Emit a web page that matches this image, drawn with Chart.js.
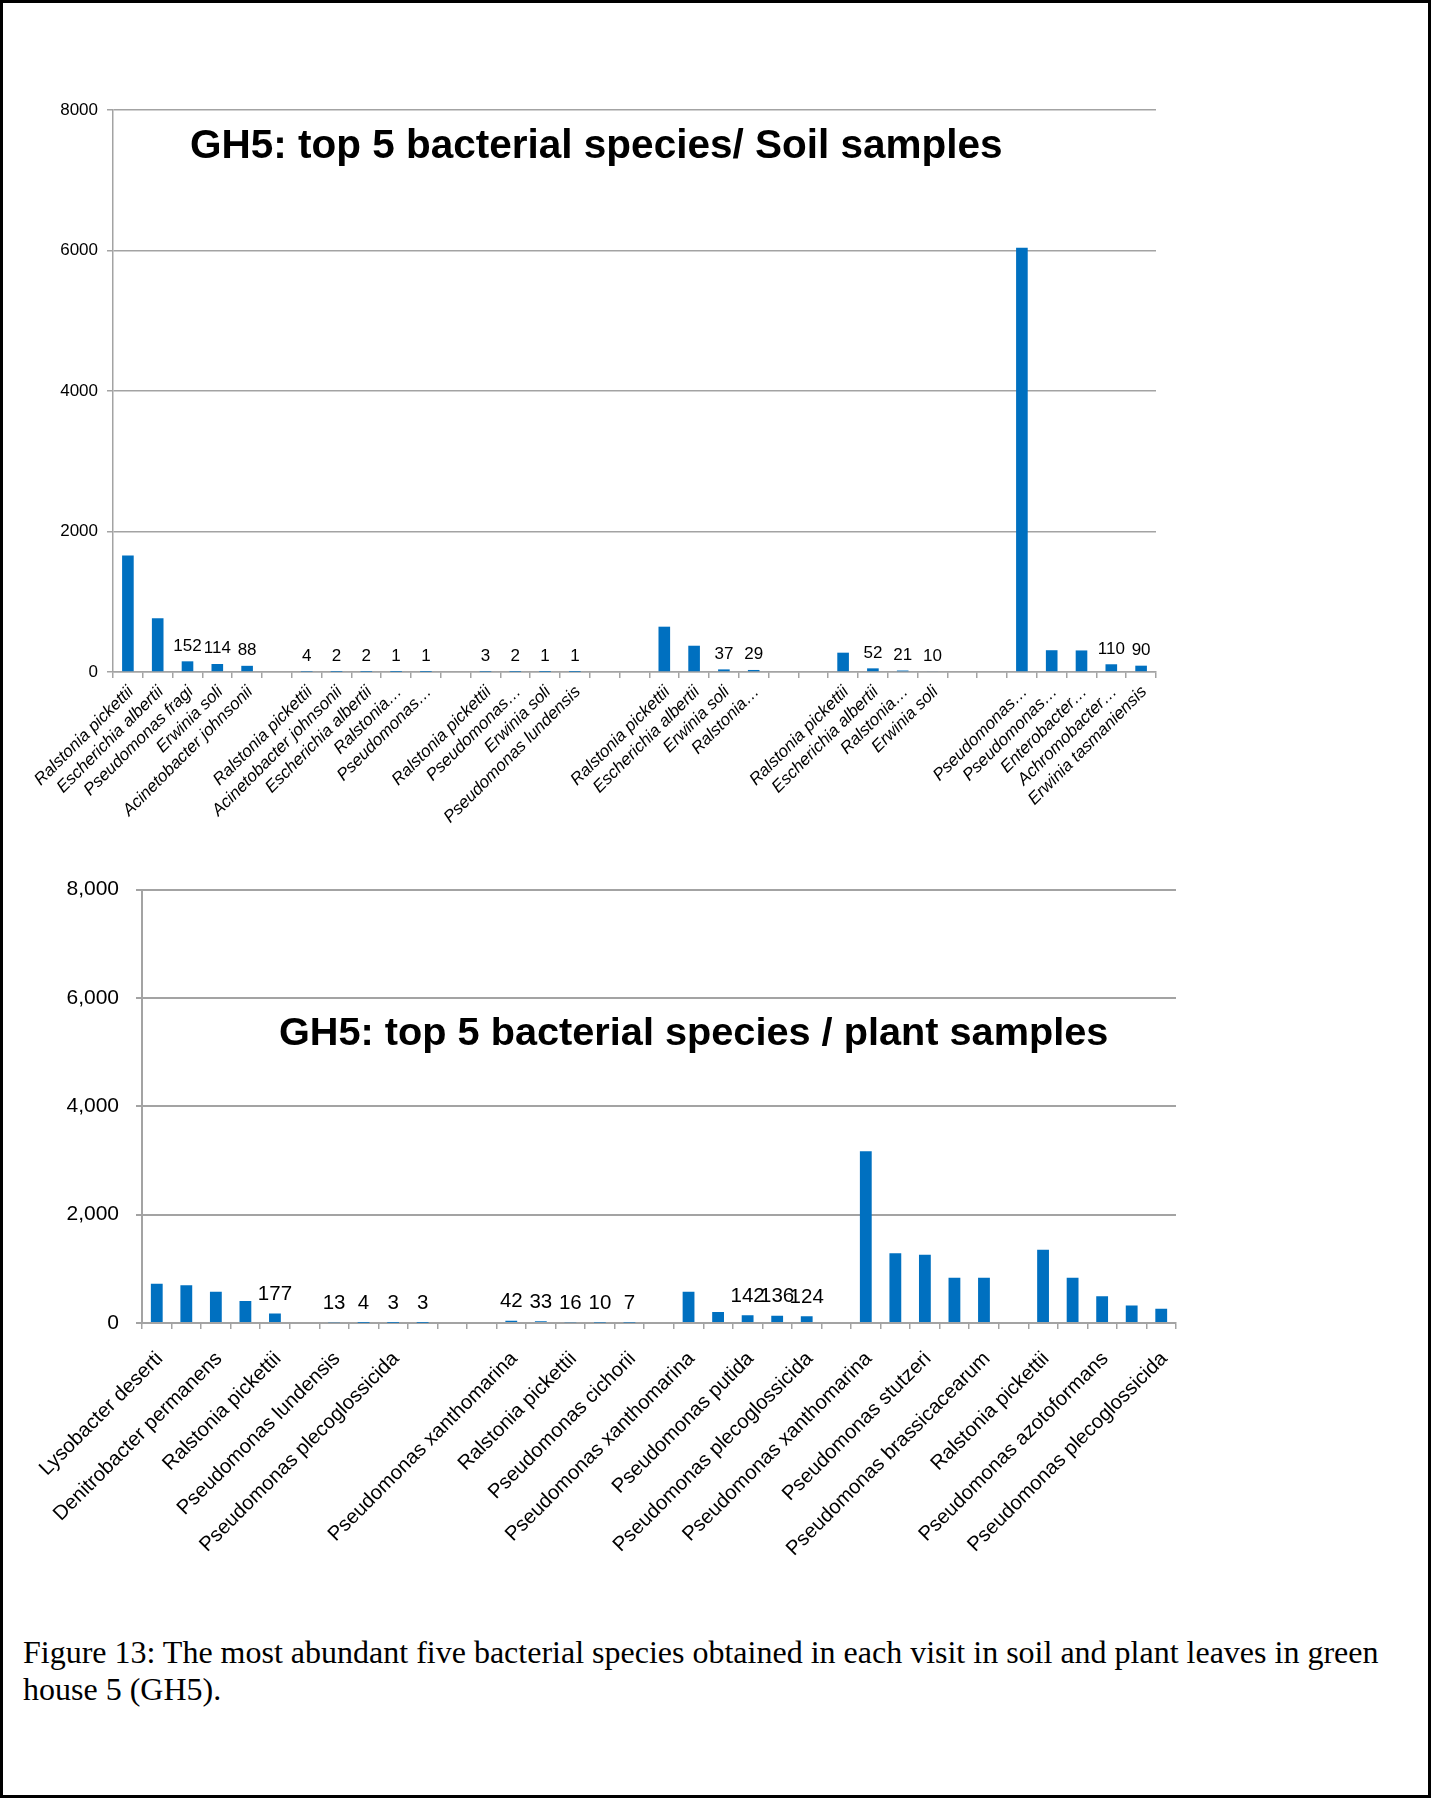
<!DOCTYPE html>
<html>
<head>
<meta charset="utf-8">
<title>GH5: top 5 bacterial species</title>
<script src="https://cdn.jsdelivr.net/npm/chart.js@4.4.1/dist/chart.umd.min.js"></script>
<style>
  html, body { margin: 0; padding: 0; background: #fff; }
  #page { position: relative; width: 1431px; height: 1798px; box-sizing: border-box; border: 3px solid #000; overflow: hidden; }
  canvas { position: absolute; left: -3px; }
  #soil { top: -3px; }
  #plant { top: 857px; }
  #caption {
    position: absolute; left: 20px; top: 1631px;
    font-family: "Liberation Serif", "Times New Roman", serif;
    font-size: 32px; line-height: 37px; color: #000; white-space: nowrap;
  }
</style>
</head>
<body>
<div id="page">
  <canvas id="soil" width="1431" height="860"></canvas>
  <canvas id="plant" width="1431" height="700"></canvas>
  <div id="caption">Figure 13: The most abundant five bacterial species obtained in each visit in soil and plant leaves in green<br>house 5 (GH5).</div>
</div>
<script>
// ---- Soil samples: five visits, top species per visit (blank slots separate visits)
const soilSpecies = [
  'Ralstonia pickettii', 'Escherichia albertii', 'Pseudomonas fragi', 'Erwinia soli', 'Acinetobacter johnsonii',
  '',
  'Ralstonia pickettii', 'Acinetobacter johnsonii', 'Escherichia albertii', 'Ralstonia…', 'Pseudomonas…',
  '',
  'Ralstonia pickettii', 'Pseudomonas…', 'Erwinia soli', 'Pseudomonas lundensis',
  '', '',
  'Ralstonia pickettii', 'Escherichia albertii', 'Erwinia soli', 'Ralstonia…',
  '', '',
  'Ralstonia pickettii', 'Escherichia albertii', 'Ralstonia…', 'Erwinia soli',
  '', '',
  'Pseudomonas…', 'Pseudomonas…', 'Enterobacter…', 'Achromobacter…', 'Erwinia tasmaniensis'
];
const soilCounts = [
  1660, 765, 152, 114, 88,
  null,
  4, 2, 2, 1, 1,
  null,
  3, 2, 1, 1,
  null, null,
  645, 374, 37, 29,
  null, null,
  275, 52, 21, 10,
  null, null,
  6040, 310, 307, 110, 90
];
const soilTicks = [0, 2000, 4000, 6000, 8000];

// ---- Plant samples (only every second species name is printed on the axis)
const plantSpecies = [
  'Lysobacter deserti', '', 'Denitrobacter permanens', '', 'Ralstonia pickettii',
  '',
  'Pseudomonas lundensis', '', 'Pseudomonas plecoglossicida', '',
  '', '',
  'Pseudomonas xanthomarina', '', 'Ralstonia pickettii', '', 'Pseudomonas cichorii',
  '',
  'Pseudomonas xanthomarina', '', 'Pseudomonas putida', '', 'Pseudomonas plecoglossicida',
  '',
  'Pseudomonas xanthomarina', '', 'Pseudomonas stutzeri', '', 'Pseudomonas brassicacearum',
  '',
  'Ralstonia pickettii', '', 'Pseudomonas azotoformans', '', 'Pseudomonas plecoglossicida'
];
const plantCounts = [
  725, 695, 578, 405, 177,
  null,
  13, 4, 3, 3,
  null, null,
  42, 33, 16, 10, 7,
  null,
  578, 205, 142, 136, 124,
  null,
  3170, 1288, 1258, 836, 836,
  null,
  1350, 836, 494, 322, 262
];
const plantTicks = [0, 2000, 4000, 6000, 8000];

const BAR_BLUE = '#0070c0';
const GRID_GREY = '#a3a3a3';
const SANS = '"Liberation Sans", Arial, Helvetica, sans-serif';

// Bold heading drawn inside the plot area
const panelTitle = {
  id: 'panelTitle',
  afterDraw(chart, args, opts) {
    const { ctx, chartArea } = chart;
    ctx.save();
    ctx.font = opts.font;
    ctx.fillStyle = '#000';
    ctx.textAlign = 'left';
    ctx.textBaseline = 'middle';
    ctx.fillText(opts.text, chartArea.left + opts.dx, chartArea.top + opts.dy);
    ctx.restore();
  }
};

// Count printed above the short bars
const valueLabels = {
  id: 'valueLabels',
  afterDatasetsDraw(chart, args, opts) {
    const { ctx } = chart;
    const meta = chart.getDatasetMeta(0);
    const data = chart.data.datasets[0].data;
    ctx.save();
    ctx.font = opts.font;
    ctx.fillStyle = '#000';
    ctx.textAlign = 'center';
    ctx.textBaseline = 'alphabetic';
    meta.data.forEach((bar, i) => {
      const v = data[i];
      if (v === null || v === undefined || v >= opts.below) return;
      ctx.fillText(String(v), bar.x, bar.y - opts.gap);
    });
    ctx.restore();
  }
};

function barChart(canvasId, cfg) {
  return new Chart(document.getElementById(canvasId), {
    type: 'bar',
    data: {
      labels: cfg.labels,
      datasets: [{
        data: cfg.values,
        backgroundColor: BAR_BLUE,
        borderWidth: 0,
        barPercentage: cfg.barPct,
        categoryPercentage: 1
      }]
    },
    plugins: [panelTitle, valueLabels],
    options: {
      responsive: false,
      animation: false,
      layout: { padding: cfg.padding },
      plugins: {
        legend: { display: false },
        tooltip: { enabled: false },
        title: { display: false },
        panelTitle: cfg.title,
        valueLabels: cfg.valueLabels
      },
      scales: {
        x: {
          type: 'category',
          offset: true,
          grid: { display: true, drawOnChartArea: false, drawTicks: true, tickLength: 6, color: GRID_GREY, lineWidth: 1.5, offset: true },
          border: { display: true, color: GRID_GREY, width: 1.5 },
          ticks: {
            autoSkip: false,
            minRotation: 45,
            maxRotation: 45,
            padding: cfg.xPad,
            labelOffset: cfg.xShift,
            color: '#000',
            font: cfg.xFont
          },
          afterFit(scale) {
            scale.height = cfg.xHeight;
            scale.paddingLeft = 0;
            scale.paddingRight = 0;
          }
        },
        y: {
          min: 0,
          max: 8000,
          afterBuildTicks(scale) {
            scale.ticks = cfg.yTicks.map(v => ({ value: v }));
          },
          grid: { color: GRID_GREY, lineWidth: cfg.gridWidth, drawTicks: true, tickLength: 6 },
          border: { display: true, color: GRID_GREY, width: cfg.gridWidth },
          ticks: {
            padding: cfg.yPad,
            color: '#000',
            font: cfg.yFont,
            callback: cfg.yFormat
          },
          afterFit(scale) {
            scale.width = cfg.yWidth;
          }
        }
      }
    }
  });
}

barChart('soil', {
  labels: soilSpecies,
  values: soilCounts,
  yTicks: soilTicks,
  barPct: 0.39,
  padding: { top: 110, left: 0, right: 275, bottom: 0 },
  yWidth: 113,
  xHeight: 188,
  yPad: 9,
  xPad: 4,
  xShift: 3,
  gridWidth: 1.5,
  yFont: { family: SANS, size: 17 },
  xFont: { family: SANS, size: 17, style: 'italic' },
  yFormat: v => String(v),
  title: { text: 'GH5: top 5 bacterial species/ Soil samples', font: 'bold 40.5px ' + SANS, dx: 77, dy: 37 },
  valueLabels: { below: 200, gap: 10.5, font: '17px ' + SANS }
});

barChart('plant', {
  labels: plantSpecies,
  values: plantCounts,
  yTicks: plantTicks,
  barPct: 0.40,
  padding: { top: 26, left: 0, right: 255, bottom: 0 },
  yWidth: 142,
  xHeight: 237,
  yPad: 17,
  xPad: 18,
  xShift: 3,
  gridWidth: 2,
  yFont: { family: SANS, size: 21 },
  xFont: { family: SANS, size: 20.3 },
  yFormat: v => v.toLocaleString('en-US'),
  title: { text: 'GH5: top 5 bacterial species / plant samples', font: 'bold 39.7px ' + SANS, dx: 137, dy: 144 },
  valueLabels: { below: 200, gap: 13.5, font: '20.5px ' + SANS }
});
</script>
</body>
</html>
